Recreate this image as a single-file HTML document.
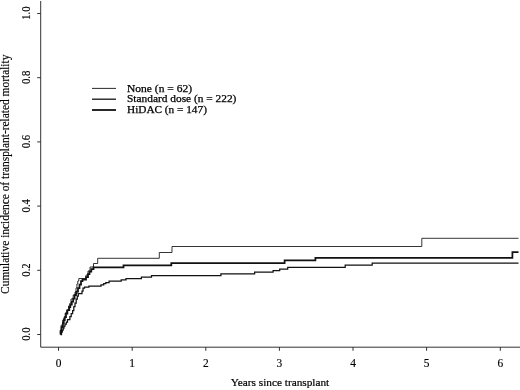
<!DOCTYPE html>
<html><head><meta charset="utf-8"><title>Cumulative incidence of transplant-related mortality</title>
<style>
html,body{margin:0;padding:0;background:#fff;}
svg{display:block;}
text{font-family:"Liberation Serif","Times New Roman",serif;font-size:12px;fill:#000;stroke:#000;stroke-width:0.15px;}
text.xl{font-size:11.2px;stroke-width:0.2px;}
text.yt{font-size:12.6px;}
text.lg{font-size:10.8px;stroke-width:0.25px;}
</style></head><body>
<svg width="520" height="390" viewBox="0 0 520 390">
<rect width="520" height="390" fill="#fff"/>
<!-- axes -->
<g stroke="#333" stroke-width="1" fill="none">
<path d="M40.7 1V347.2H520"/>
<path d="M37.2 13.5H40.7M37.2 77.7H40.7M37.2 141.9H40.7M37.2 206.1H40.7M37.2 270.3H40.7M37.2 334.5H40.7"/>
<path d="M58.5 347V350.8M132.2 347V350.8M205.8 347V350.8M279.4 347V350.8M353 347V350.8M426.6 347V350.8M500.3 347V350.8"/>
</g>
<!-- y tick labels -->
<g text-anchor="middle" lengthAdjust="spacingAndGlyphs">
<text class="yt" transform="translate(29.7,13.2) rotate(-90)" textLength="13.3" lengthAdjust="spacingAndGlyphs">1.0</text>
<text class="yt" transform="translate(29.7,77.4) rotate(-90)" textLength="13.3" lengthAdjust="spacingAndGlyphs">0.8</text>
<text class="yt" transform="translate(29.7,141.6) rotate(-90)" textLength="13.3" lengthAdjust="spacingAndGlyphs">0.6</text>
<text class="yt" transform="translate(29.7,205.8) rotate(-90)" textLength="13.3" lengthAdjust="spacingAndGlyphs">0.4</text>
<text class="yt" transform="translate(29.7,270.0) rotate(-90)" textLength="13.3" lengthAdjust="spacingAndGlyphs">0.2</text>
<text class="yt" transform="translate(29.7,334.2) rotate(-90)" textLength="13.3" lengthAdjust="spacingAndGlyphs">0.0</text>
<text transform="translate(9.2,174.25) rotate(-90)" textLength="239.3" lengthAdjust="spacingAndGlyphs">Cumulative incidence of transplant-related mortality</text>
</g>
<!-- x tick labels -->
<g text-anchor="middle">
<text x="58.5" y="366.6" textLength="5.7" lengthAdjust="spacingAndGlyphs">0</text>
<text x="132.2" y="366.6" textLength="5.7" lengthAdjust="spacingAndGlyphs">1</text>
<text x="205.8" y="366.6" textLength="5.7" lengthAdjust="spacingAndGlyphs">2</text>
<text x="279.4" y="366.6" textLength="5.7" lengthAdjust="spacingAndGlyphs">3</text>
<text x="353" y="366.6" textLength="5.7" lengthAdjust="spacingAndGlyphs">4</text>
<text x="426.6" y="366.6" textLength="5.7" lengthAdjust="spacingAndGlyphs">5</text>
<text x="500.3" y="366.6" textLength="5.7" lengthAdjust="spacingAndGlyphs">6</text>
<text class="xl" x="280" y="385.9" textLength="98.5" lengthAdjust="spacingAndGlyphs">Years since transplant</text>
</g>
<!-- legend -->
<g stroke="#111" fill="none">
<path d="M92 88.4H116" stroke-width="0.9"/>
<path d="M92 99.2H116" stroke-width="1.3"/>
<path d="M92 110H116" stroke-width="1.8"/>
</g>
<text class="lg" x="127" y="91.6" textLength="65" lengthAdjust="spacingAndGlyphs">None (n = 62)</text>
<text class="lg" x="127" y="102.3" textLength="109.4" lengthAdjust="spacingAndGlyphs">Standard dose (n = 222)</text>
<text class="lg" x="127" y="113.1" textLength="79.9" lengthAdjust="spacingAndGlyphs">HiDAC (n = 147)</text>
<!-- curves -->
<g fill="none" stroke="#111" stroke-linejoin="miter">
<!-- None -->
<path stroke-width="0.85" d="M60.5 334.5V330H61.2V325H62.7V320H63.7V317.9H65.2V313H66.6V310.5H68.5V306H70V303H71V299H73.2V295H75V292H76V288H76.9V284H77.8V281H78.8V278.5H86V275H88V271H90V267H93.5V263.5H97.7V258.3H159.3V252.5H172V246.5H421.8V238.3H518.5"/>
<!-- Standard -->
<path stroke-width="1.25" d="M60.5 334.5H61.5V332H62.3V330H63.2V328H64V326H65V324H66.3V322H67.5V319.5H69.9V316.5H71.2V313.5H72.6V310.5H73.8V306.5H75V303H76.2V299H77.3V296H78.3V293.5H82V291H83V288H84.5V287H88.9V286H101V284.8H103.7V283.5H105.8V282.5H109.1V281.2H121.2V279.9H126V278.6H141.4V277.2H151.5V275.6H220.9V273.8H254.6V272.2H273.1V270.7H279.7V269.2H287.7V267.3H345.2V265.2H372.2V263H518.5"/>
<!-- HiDAC -->
<path stroke-width="1.75" d="M60.5 334.5V331H61.5V327H62.9V323H63.8V320H64.8V317H66V313.5H67.4V310H69.3V307H70.3V304.5H71.8V301.7H73.2V298.5H74.6V295.2H76V293H76.5V291.5H78V288H79.5V284.5H81V281H82.5V279.7H86V277H88V274H89.5V271.5H91.3V269.2H93.5V267.4H123.5V265.3H171.3V263H284.6V260.3H315.4V257.8H512.4V252H518.5"/>
</g>
</svg>
</body></html>
